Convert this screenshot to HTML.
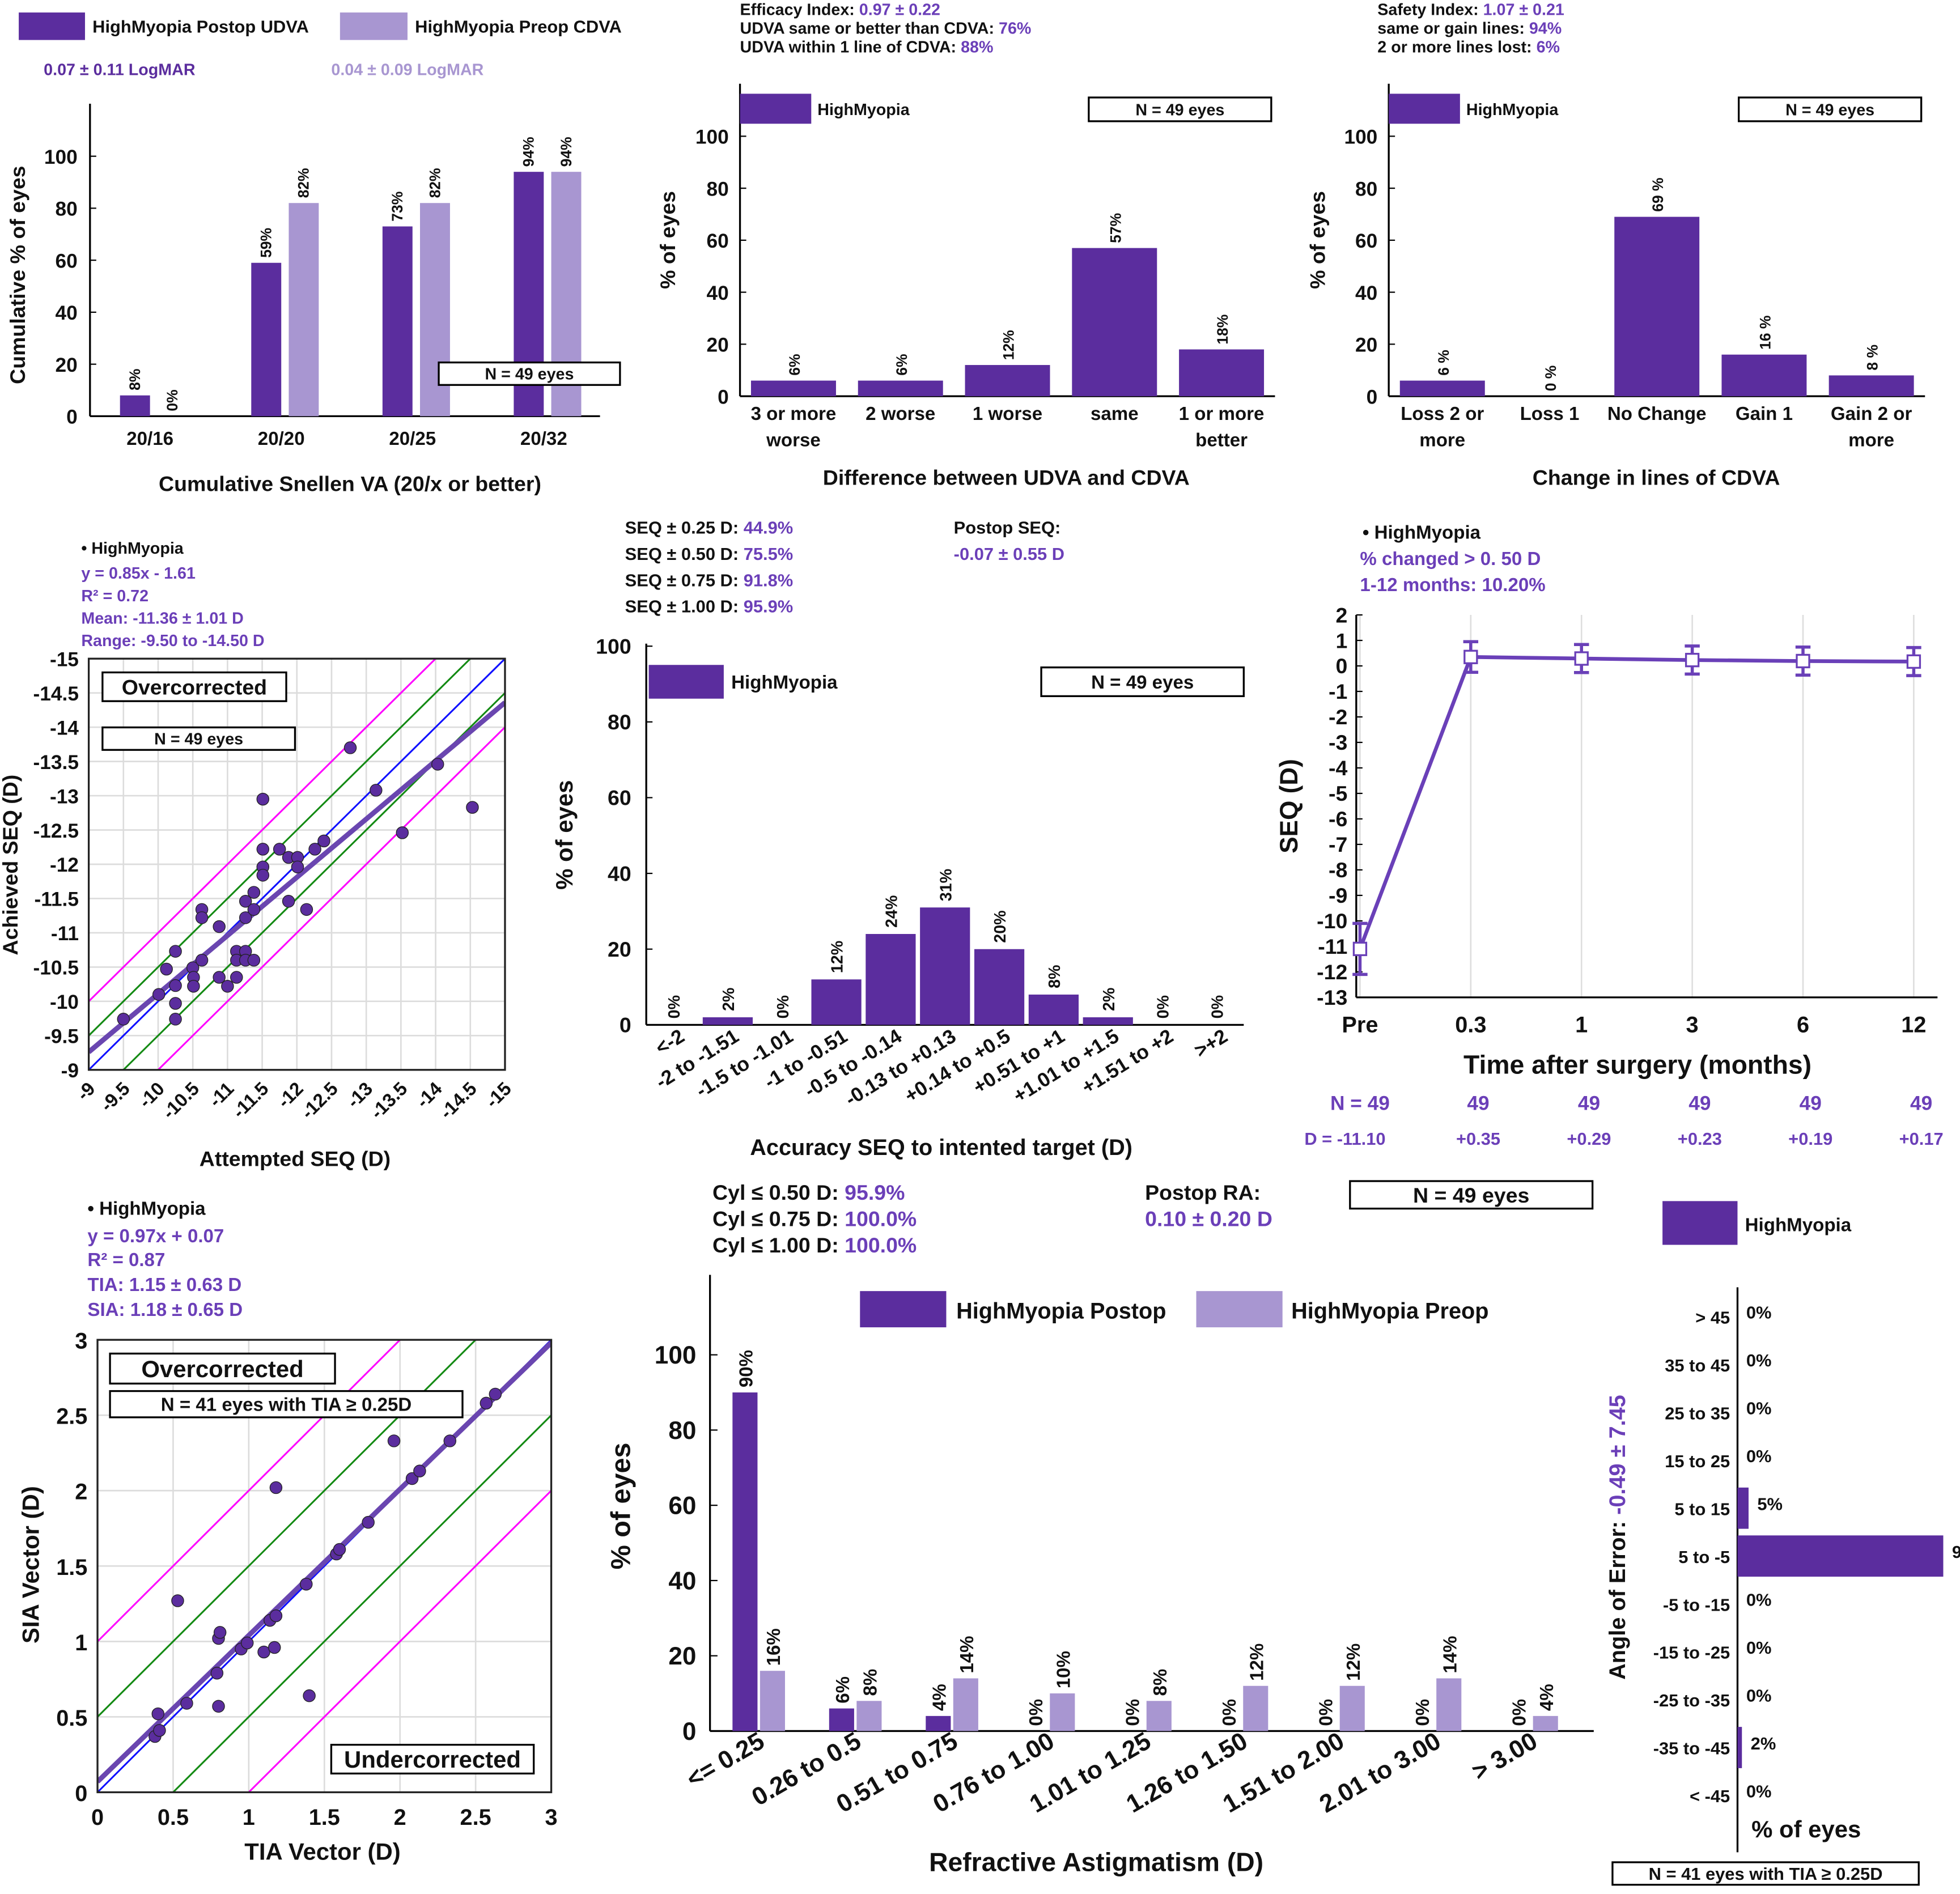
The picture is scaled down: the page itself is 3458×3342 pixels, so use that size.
<!DOCTYPE html>
<html><head><meta charset="utf-8"><title>High Myopia Outcomes</title>
<style>
html,body{margin:0;padding:0;background:#fff;width:3458px;height:3342px;overflow:hidden;}
svg{display:block;overflow:hidden;}
text{font-family:"Liberation Sans",Arial,sans-serif;font-weight:bold;}
</style></head>
<body>
<svg id="chart" xmlns="http://www.w3.org/2000/svg" width="3458" height="3342" viewBox="0 0 1568 1515.4" preserveAspectRatio="none"></svg>
<script>
// ---------------- DATA ----------------
const p1Cats = ["20/16","20/20","20/25","20/32"];
const p1Postop = [8,59,73,94];
const p1Preop = [0,82,82,94];
const p1Ticks = [0,20,40,60,80,100];

const p2Cats = [["3 or more","worse"],["2 worse"],["1 worse"],["same"],["1 or more","better"]];
const p2Vals = [6,6,12,57,18];

const p3Cats = [["Loss 2 or","more"],["Loss 1"],["No Change"],["Gain 1"],["Gain 2 or","more"]];
const p3Vals = [6,0,69,16,8];

const p4Attempted = [-9.50,-10.01,-10.12,-10.25,-10.25,-10.25,-10.25,-10.50,-10.51,-10.51,-10.63,-10.63,-10.63,-10.88,-10.88,-11.00,-11.13,-11.13,-11.13,-11.26,-11.26,-11.38,-11.26,-11.26,-11.38,-11.38,-11.51,-11.51,-11.51,-11.51,-11.75,-11.88,-12.01,-12.01,-11.88,-12.14,-12.26,-12.39,-12.77,-13.14,-13.52,-14.03,-14.53];
const p4Achieved = [-9.74,-10.10,-10.47,-10.73,-10.23,-9.97,-9.74,-10.49,-10.35,-10.22,-10.60,-11.34,-11.22,-11.09,-10.35,-10.22,-10.73,-10.60,-10.35,-10.73,-10.60,-10.60,-11.22,-11.46,-11.34,-11.59,-12.95,-12.22,-11.96,-11.84,-12.22,-12.10,-12.10,-11.96,-11.46,-11.34,-12.22,-12.34,-13.70,-13.08,-12.46,-13.46,-12.83];
const p4Slope = 0.85, p4Intercept = -1.61;
const p4Ticks = [-9,-9.5,-10,-10.5,-11,-11.5,-12,-12.5,-13,-13.5,-14,-14.5,-15];

const p5Cats = ["<-2","-2 to -1.51","-1.5 to -1.01","-1 to -0.51","-0.5 to -0.14","-0.13 to +0.13","+0.14 to +0.5","+0.51 to +1","+1.01 to +1.5","+1.51 to +2",">+2"];
const p5Vals = [0,2,0,12,24,31,20,8,2,0,0];

const p6Times = ["Pre","0.3","1","3","6","12"];
const p6Mean = [-11.10,0.35,0.29,0.23,0.19,0.17];
const p6Err = [1.0,0.6,0.55,0.55,0.55,0.55];
const p6N = ["N = 49","49","49","49","49","49"];
const p6D = ["D = -11.10","+0.35","+0.29","+0.23","+0.19","+0.17"];

const p7TIA = [0.38,0.41,0.40,0.59,0.53,0.80,0.79,0.80,0.81,0.95,0.99,1.10,1.17,1.14,1.18,1.18,1.38,1.40,1.58,1.60,1.79,1.96,2.08,2.13,2.33,2.57,2.63];
const p7SIA = [0.37,0.41,0.52,0.59,1.27,0.57,0.79,1.02,1.06,0.95,0.99,0.93,0.96,1.14,1.17,2.02,1.38,0.64,1.58,1.61,1.79,2.33,2.08,2.13,2.33,2.58,2.64];
const p7Slope = 0.97, p7Intercept = 0.07;
const p7Ticks = [0,0.5,1,1.5,2,2.5,3];

const p8Cats = ["<= 0.25","0.26 to 0.5","0.51 to 0.75","0.76 to 1.00","1.01 to 1.25","1.26 to 1.50","1.51 to 2.00","2.01 to 3.00","> 3.00"];
const p8Postop = [90,6,4,0,0,0,0,0,0];
const p8Preop = [16,8,14,10,8,12,12,14,4];

const p9Cats = ["> 45","35 to 45","25 to 35","15 to 25","5 to 15","5 to -5","-5 to -15","-15 to -25","-25 to -35","-35 to -45","< -45"];
const p9Vals = [0,0,0,0,5,93,0,0,0,2,0];

// ---------------- HELPERS ----------------
const NS = "http://www.w3.org/2000/svg";
const S = document.getElementById('chart');
const DARK = "#5b2d9e", LIGHT = "#a896d1", PTXT = "#6b3fb8";
function mk(tag, a, name, inter) {
  const e = document.createElementNS(NS, tag);
  for (const k in a) e.setAttribute(k, a[k]);
  
  
  S.appendChild(e);
  return e;
}
function txt(x, y, parts, size, name, o) {
  o = o || {};
  const a = {x: x, y: y, 'font-size': size, 'text-anchor': o.anchor || 'start', fill: o.fill || '#111'};
  if (o.rot !== undefined) a.transform = 'rotate(' + o.rot + ' ' + x + ' ' + y + ')';
  if (o.weight) a['font-weight'] = o.weight;
  const e = mk('text', a, name, false);
  if (typeof parts === 'string') { e.textContent = parts; return e; }
  parts.forEach(p => {
    const t = document.createElementNS(NS, 'tspan');
    t.setAttribute('fill', p[1]);
    t.textContent = p[0];
    e.appendChild(t);
  });
  return e;
}
function line(x1, y1, x2, y2, stroke, w, name) {
  return mk('line', {x1: x1, y1: y1, x2: x2, y2: y2, stroke: stroke, 'stroke-width': w}, name, false);
}
function rect(x, y, w, h, fill, name, stroke) {
  const a = {x: x, y: y, width: Math.max(0, w), height: Math.max(0, h), fill: fill};
  if (stroke) { a.stroke = stroke; a['stroke-width'] = 1.5; }
  return mk('rect', a, name, false);
}
function box(x, y, w, h, label, size, name) {
  rect(x, y, w, h, '#fff', name, '#000');
  txt(x + w / 2, y + h / 2 + size * 0.36, label, size, name + '-text', {anchor: 'middle'});
}

// ---------------- PANEL 1 ----------------
(function () {
  const y = v => 333 - v * 2.08;
  rect(15, 10, 53, 22, DARK, 'legend-swatch-postop');
  txt(74, 26, 'HighMyopia Postop UDVA', 14, 'legend-label-postop');
  rect(272, 10, 54, 22, LIGHT, 'legend-swatch-preop');
  txt(332, 26, 'HighMyopia Preop CDVA', 14, 'legend-label-preop');
  txt(35, 60, '0.07 ± 0.11 LogMAR', 13, 'postop-logmar', {fill: DARK});
  txt(265, 60, '0.04 ± 0.09 LogMAR', 13, 'preop-logmar', {fill: LIGHT});
  line(72, 83, 72, 333, '#000', 1.5, 'p1-y-axis');
  line(72, 333, 480, 333, '#000', 1.5, 'p1-x-axis');
  p1Ticks.forEach(t => {
    line(72, y(t), 77, y(t), '#000', 1, 'p1-y-tick');
    txt(62, y(t) + 6, String(t), 16, 'p1-y-tick-label', {anchor: 'end'});
  });
  const cx = i => 120 + i * 105;
  p1Cats.forEach((c, i) => {
    const c0 = cx(i);
    rect(c0 - 24, y(p1Postop[i]), 24, p1Postop[i] * 2.08, DARK, 'bar-postop-' + c);
    rect(c0 + 6, y(p1Preop[i]), 24, p1Preop[i] * 2.08, LIGHT, 'bar-preop-' + c);
    txt(c0 - 8, y(p1Postop[i]) - 4, p1Postop[i] + '%', 12, 'bar-label-postop', {rot: -90});
    txt(c0 + 22, y(p1Preop[i]) - 4, p1Preop[i] + '%', 12, 'bar-label-preop', {rot: -90});
    txt(c0, 356, c, 15, 'p1-x-tick-label', {anchor: 'middle'});
  });
  box(351, 290, 145, 18, 'N = 49 eyes', 13, 'p1-n-box');
  txt(20, 220, 'Cumulative % of eyes', 17, 'p1-y-axis-title', {anchor: 'middle', rot: -90});
  txt(280, 393, 'Cumulative Snellen VA (20/x or better)', 17, 'p1-x-axis-title', {anchor: 'middle'});
})();

// ---------------- PANELS 2 & 3 ----------------
function lineBar(x0, x1, cats, vals, pre, spaced) {
  const y = v => 317 - v * 2.08;
  line(x0, 67, x0, 317, '#000', 1.5, pre + '-y-axis');
  line(x0, 317, x1, 317, '#000', 1.5, pre + '-x-axis');
  [0, 20, 40, 60, 80, 100].forEach(t => {
    line(x0, y(t), x0 + 5, y(t), '#000', 1, pre + '-y-tick');
    txt(x0 - 9, y(t) + 6, String(t), 16, pre + '-y-tick-label', {anchor: 'end'});
  });
  const step = (x1 - x0) / cats.length;
  cats.forEach((c, i) => {
    const cx = x0 + step * (i + 0.5);
    rect(cx - 34, y(vals[i]), 68, vals[i] * 2.08, DARK, pre + '-bar-' + c.join('-').replace(/ /g, '-'));
    txt(cx + 5, y(vals[i]) - 4, vals[i] + (spaced ? ' %' : '%'), 12, pre + '-bar-label', {rot: -90});
    c.forEach((l, j) => txt(cx, 336 + j * 21, l, 15, pre + '-x-tick-label', {anchor: 'middle'}));
  });
  rect(x0, 75, 57, 24, DARK, pre + '-legend-swatch');
  txt(x0 + 62, 92, 'HighMyopia', 13, pre + '-legend-label');
  box(x1 - 149, 78, 146, 19, 'N = 49 eyes', 13, pre + '-n-box');
}
lineBar(592, 1020, p2Cats, p2Vals, 'p2', false);
txt(592, 12, [['Efficacy Index: ', '#111'], ['0.97 ± 0.22', PTXT]], 13, 'efficacy-index');
txt(592, 27, [['UDVA same or better than CDVA: ', '#111'], ['76%', PTXT]], 13, 'udva-same-better');
txt(592, 42, [['UDVA within 1 line of CDVA: ', '#111'], ['88%', PTXT]], 13, 'udva-within-1-line');
txt(540, 192, '% of eyes', 17, 'p2-y-axis-title', {anchor: 'middle', rot: -90});
txt(805, 388, 'Difference between UDVA and CDVA', 17, 'p2-x-axis-title', {anchor: 'middle'});

lineBar(1111, 1540, p3Cats, p3Vals, 'p3', true);
txt(1102, 12, [['Safety Index: ', '#111'], ['1.07 ± 0.21', PTXT]], 13, 'safety-index');
txt(1102, 27, [['same or gain lines: ', '#111'], ['94%', PTXT]], 13, 'same-or-gain-lines');
txt(1102, 42, [['2 or more lines lost: ', '#111'], ['6%', PTXT]], 13, 'lines-lost');
txt(1060, 192, '% of eyes', 17, 'p3-y-axis-title', {anchor: 'middle', rot: -90});
txt(1325, 388, 'Change in lines of CDVA', 17, 'p3-x-axis-title', {anchor: 'middle'});

// ---------------- PANEL 4 ----------------
(function () {
  const L = 71, R = 404, T = 527, B = 856;
  const px = v => L + (-v - 9) / 6 * (R - L);
  const py = v => B - (-v - 9) / 6 * (B - T);
  txt(65, 443, '• HighMyopia', 13, 'p4-legend');
  txt(65, 463, 'y = 0.85x - 1.61', 13, 'p4-equation', {fill: PTXT});
  txt(65, 481, 'R² = 0.72', 13, 'p4-r2', {fill: PTXT});
  txt(65, 499, 'Mean: -11.36 ± 1.01 D', 13, 'p4-mean', {fill: PTXT});
  txt(65, 517, 'Range: -9.50 to -14.50 D', 13, 'p4-range', {fill: PTXT});
  p4Ticks.forEach(t => {
    line(px(t), T, px(t), B, '#dcdcdc', 1.2, 'p4-grid-x');
    line(L, py(t), R, py(t), '#dcdcdc', 1.2, 'p4-grid-y');
    txt(L - 8, py(t) + 6, String(t), 16, 'p4-y-tick-label', {anchor: 'end'});
    txt(px(t) + 6, B + 16, String(t), 15, 'p4-x-tick-label', {anchor: 'end', rot: -45});
  });
  const cp = mk('clipPath', {id: 'c4'}, 'p4-clip', false);
  const cr = document.createElementNS(NS, 'rect');
  cr.setAttribute('x', L); cr.setAttribute('y', T); cr.setAttribute('width', R - L); cr.setAttribute('height', B - T);
  cp.appendChild(cr);
  const off = [[1, '#ff00ff', 'p4-plus-1-line'], [-1, '#ff00ff', 'p4-minus-1-line'], [0.5, '#138a13', 'p4-plus-half-line'], [-0.5, '#138a13', 'p4-minus-half-line'], [0, '#1010ff', 'p4-identity-line']];
  off.forEach(o => {
    const l = line(px(-8), py(-8 - o[0]), px(-16), py(-16 - o[0]), o[1], 1.4, o[2]);
    l.setAttribute('clip-path', 'url(#c4)');
  });
  const rl = line(px(-9), py(p4Slope * -9 + p4Intercept), px(-15), py(p4Slope * -15 + p4Intercept), '#6a46b0', 4, 'p4-regression-line');
  rl.setAttribute('clip-path', 'url(#c4)');
  p4Attempted.forEach((a, i) => {
    mk('circle', {cx: px(a), cy: py(p4Achieved[i]), r: 4.8, fill: DARK, stroke: '#222', 'stroke-width': 0.6}, 'p4-point', false);
  });
  rect(L, T, R - L, B - T, 'none', 'p4-plot-frame', '#222');
  box(82, 538, 147, 23, 'Overcorrected', 17, 'p4-overcorrected-box');
  box(82, 582, 154, 18, 'N = 49 eyes', 13, 'p4-n-box');
  txt(14, 692, 'Achieved SEQ (D)', 17, 'p4-y-axis-title', {anchor: 'middle', rot: -90});
  txt(236, 933, 'Attempted SEQ (D)', 17, 'p4-x-axis-title', {anchor: 'middle'});
})();

// ---------------- PANEL 5 ----------------
(function () {
  const y = v => 820 - v * 3.03;
  txt(500, 427, [['SEQ ± 0.25 D: ', '#111'], ['44.9%', PTXT]], 14, 'seq-025');
  txt(500, 448, [['SEQ ± 0.50 D: ', '#111'], ['75.5%', PTXT]], 14, 'seq-050');
  txt(500, 469, [['SEQ ± 0.75 D: ', '#111'], ['91.8%', PTXT]], 14, 'seq-075');
  txt(500, 490, [['SEQ ± 1.00 D: ', '#111'], ['95.9%', PTXT]], 14, 'seq-100');
  txt(763, 427, 'Postop SEQ:', 14, 'postop-seq-label');
  txt(763, 448, '-0.07 ± 0.55 D', 14, 'postop-seq-value', {fill: PTXT});
  line(517, 515, 517, 820, '#000', 1.5, 'p5-y-axis');
  line(517, 820, 995, 820, '#000', 1.5, 'p5-x-axis');
  [0, 20, 40, 60, 80, 100].forEach(t => {
    line(517, y(t), 522, y(t), '#000', 1, 'p5-y-tick');
    txt(505, y(t) + 6, String(t), 17, 'p5-y-tick-label', {anchor: 'end'});
  });
  const step = (995 - 517) / p5Cats.length;
  p5Cats.forEach((c, i) => {
    const cx = 517 + step * (i + 0.5);
    rect(cx - 20, y(p5Vals[i]), 40, p5Vals[i] * 3.03, DARK, 'p5-bar');
    txt(cx + 5, y(p5Vals[i]) - 5, p5Vals[i] + '%', 13, 'p5-bar-label', {rot: -90});
    txt(cx + 10, 832, c, 16, 'p5-x-tick-label', {anchor: 'end', rot: -32});
  });
  rect(519, 532, 60, 27, DARK, 'p5-legend-swatch');
  txt(585, 551, 'HighMyopia', 15, 'p5-legend-label');
  box(833, 534, 162, 23, 'N = 49 eyes', 15, 'p5-n-box');
  txt(458, 668, '% of eyes', 19, 'p5-y-axis-title', {anchor: 'middle', rot: -90});
  txt(753, 924, 'Accuracy SEQ to intented target (D)', 18, 'p5-x-axis-title', {anchor: 'middle'});
})();

// ---------------- PANEL 6 ----------------
(function () {
  const y = v => 492 + (2 - v) * 20.4;
  const xs = i => 1088 + i * 88.6;
  txt(1090, 431, '• HighMyopia', 15, 'p6-legend');
  txt(1088, 452, '% changed > 0. 50 D', 15, 'p6-changed', {fill: PTXT});
  txt(1088, 473, '1-12 months: 10.20%', 15, 'p6-months', {fill: PTXT});
  p6Times.forEach((t, i) => {
    line(xs(i), 492, xs(i), 798, '#dedede', 1.2, 'p6-grid');
    txt(xs(i), 826, t, 18, 'p6-x-tick-label', {anchor: 'middle'});
    txt(xs(i) + (i === 0 ? 0 : 6), 888, p6N[i], 16, 'p6-n-label', {anchor: 'middle', fill: PTXT});
    txt(xs(i) + (i === 0 ? -12 : 6), 916, p6D[i], 14, 'p6-d-label', {anchor: 'middle', fill: PTXT});
  });
  line(1085, 492, 1085, 798, '#000', 1.5, 'p6-y-axis');
  line(1085, 798, 1550, 798, '#000', 1.5, 'p6-x-axis');
  for (let v = -13; v <= 2; v++) {
    line(1085, y(v), 1090, y(v), '#000', 1, 'p6-y-tick');
    txt(1078, y(v) + 6, String(v), 17, 'p6-y-tick-label', {anchor: 'end'});
  }
  const pts = p6Mean.map((m, i) => xs(i) + ',' + y(m)).join(' ');
  mk('polyline', {points: pts, fill: 'none', stroke: '#6a40b8', 'stroke-width': 3}, 'p6-line', false);
  p6Mean.forEach((m, i) => {
    const x = xs(i);
    line(x, y(m + p6Err[i]), x, y(m - p6Err[i]), '#6a40b8', 2.5, 'p6-error-bar');
    line(x - 6, y(m + p6Err[i]), x + 6, y(m + p6Err[i]), '#6a40b8', 2.5, 'p6-error-cap');
    line(x - 6, y(m - p6Err[i]), x + 6, y(m - p6Err[i]), '#6a40b8', 2.5, 'p6-error-cap');
    rect(x - 5, y(m) - 5, 10, 10, '#fff', 'p6-marker', '#6a40b8');
  });
  txt(1038, 645, 'SEQ (D)', 20, 'p6-y-axis-title', {anchor: 'middle', rot: -90});
  txt(1310, 859, 'Time after surgery (months)', 21, 'p6-x-axis-title', {anchor: 'middle', weight: 'normal'});
})();

// ---------------- PANEL 7 ----------------
(function () {
  const L = 78, R = 441, T = 1072, B = 1434;
  const px = v => L + v / 3 * (R - L);
  const py = v => B - v / 3 * (B - T);
  txt(70, 972, '• HighMyopia', 15, 'p7-legend');
  txt(70, 994, 'y = 0.97x + 0.07', 15, 'p7-equation', {fill: PTXT});
  txt(70, 1013, 'R² = 0.87', 15, 'p7-r2', {fill: PTXT});
  txt(70, 1033, 'TIA: 1.15 ± 0.63 D', 15, 'p7-tia', {fill: PTXT});
  txt(70, 1053, 'SIA: 1.18 ± 0.65 D', 15, 'p7-sia', {fill: PTXT});
  p7Ticks.forEach(t => {
    line(px(t), T, px(t), B, '#dcdcdc', 1.2, 'p7-grid-x');
    line(L, py(t), R, py(t), '#dcdcdc', 1.2, 'p7-grid-y');
    txt(L - 8, py(t) + 7, String(t), 18, 'p7-y-tick-label', {anchor: 'end', weight: 'normal'});
    txt(px(t), B + 26, String(t), 18, 'p7-x-tick-label', {anchor: 'middle', weight: 'normal'});
  });
  const cp = mk('clipPath', {id: 'c7'}, 'p7-clip', false);
  const cr = document.createElementNS(NS, 'rect');
  cr.setAttribute('x', L); cr.setAttribute('y', T); cr.setAttribute('width', R - L); cr.setAttribute('height', B - T);
  cp.appendChild(cr);
  const off = [[1, '#ff00ff', 'p7-plus-1-line'], [-1, '#ff00ff', 'p7-minus-1-line'], [0.5, '#138a13', 'p7-plus-half-line'], [-0.5, '#138a13', 'p7-minus-half-line'], [0, '#1010ff', 'p7-identity-line']];
  off.forEach(o => {
    const l = line(px(-1), py(-1 + o[0]), px(4), py(4 + o[0]), o[1], 1.4, o[2]);
    l.setAttribute('clip-path', 'url(#c7)');
  });
  const rl = line(px(0), py(p7Intercept), px(3), py(3 * p7Slope + p7Intercept), '#6a46b0', 4, 'p7-regression-line');
  rl.setAttribute('clip-path', 'url(#c7)');
  p7TIA.forEach((a, i) => {
    mk('circle', {cx: px(a), cy: py(p7SIA[i]), r: 4.8, fill: DARK, stroke: '#222', 'stroke-width': 0.6}, 'p7-point', false);
  });
  rect(L, T, R - L, B - T, 'none', 'p7-plot-frame', '#222');
  box(88, 1083, 180, 24, 'Overcorrected', 19, 'p7-overcorrected-box');
  box(88, 1113, 282, 21, 'N = 41 eyes with TIA ≥ 0.25D', 15, 'p7-n-box');
  box(265, 1396, 162, 23, 'Undercorrected', 19, 'p7-undercorrected-box');
  txt(31, 1252, 'SIA Vector (D)', 19, 'p7-y-axis-title', {anchor: 'middle', rot: -90, weight: 'normal'});
  txt(258, 1488, 'TIA Vector (D)', 19, 'p7-x-axis-title', {anchor: 'middle', weight: 'normal'});
})();

// ---------------- PANEL 8 ----------------
(function () {
  const y = v => 1385 - v * 3.01;
  const cx = i => 607 + i * 77.3;
  txt(570, 960, [['Cyl ≤ 0.50 D: ', '#111'], ['95.9%', PTXT]], 17, 'cyl-050');
  txt(570, 981, [['Cyl ≤ 0.75 D: ', '#111'], ['100.0%', PTXT]], 17, 'cyl-075');
  txt(570, 1002, [['Cyl ≤ 1.00 D: ', '#111'], ['100.0%', PTXT]], 17, 'cyl-100');
  txt(916, 960, 'Postop RA:', 17, 'postop-ra-label');
  txt(916, 981, '0.10 ± 0.20 D', 17, 'postop-ra-value', {fill: PTXT});
  box(1080, 945, 194, 22, 'N = 49 eyes', 17, 'p8-n-box');
  line(568, 1020, 568, 1385, '#000', 1.5, 'p8-y-axis');
  line(568, 1385, 1275, 1385, '#000', 1.5, 'p8-x-axis');
  [0, 20, 40, 60, 80, 100].forEach(t => {
    line(568, y(t), 574, y(t), '#000', 1, 'p8-y-tick');
    txt(557, y(t) + 7, String(t), 20, 'p8-y-tick-label', {anchor: 'end'});
  });
  p8Cats.forEach((c, i) => {
    const c0 = cx(i);
    rect(c0 - 21, y(p8Postop[i]), 20, p8Postop[i] * 3.01, DARK, 'p8-bar-postop');
    rect(c0 + 1, y(p8Preop[i]), 20, p8Preop[i] * 3.01, LIGHT, 'p8-bar-preop');
    txt(c0 - 5, y(p8Postop[i]) - 4, p8Postop[i] + '%', 15, 'p8-bar-label-postop', {rot: -90});
    txt(c0 + 17, y(p8Preop[i]) - 4, p8Preop[i] + '%', 15, 'p8-bar-label-preop', {rot: -90});
    txt(c0 + 6, 1397, c, 20, 'p8-x-tick-label', {anchor: 'end', rot: -30});
  });
  rect(688, 1033, 69, 29, DARK, 'p8-legend-swatch-postop');
  txt(765, 1055, 'HighMyopia Postop', 18, 'p8-legend-label-postop');
  rect(957, 1033, 69, 29, LIGHT, 'p8-legend-swatch-preop');
  txt(1033, 1055, 'HighMyopia Preop', 18, 'p8-legend-label-preop');
  txt(504, 1205, '% of eyes', 22, 'p8-y-axis-title', {anchor: 'middle', rot: -90});
  txt(877, 1497, 'Refractive Astigmatism (D)', 21, 'p8-x-axis-title', {anchor: 'middle'});
})();

// ---------------- PANEL 9 ----------------
(function () {
  const X0 = 1390;
  const yc = i => 1053 + i * 38.3;
  const w = v => v * 1.77;
  rect(1330, 961, 60, 35, DARK, 'p9-legend-swatch');
  txt(1396, 985, 'HighMyopia', 15, 'p9-legend-label');
  line(X0, 1030, X0, 1482, '#000', 1.5, 'p9-y-axis');
  p9Cats.forEach((c, i) => {
    txt(1384, yc(i) + 6, c, 14, 'p9-y-tick-label', {anchor: 'end'});
    rect(X0, yc(i) - 16, w(p9Vals[i]), 33, DARK, 'p9-bar');
    txt(X0 + w(p9Vals[i]) + 7, yc(i) + 2, p9Vals[i] + '%', 14, 'p9-bar-label');
  });
  txt(1300, 1230, [['Angle of Error: ', '#111'], ['-0.49 ± 7.45', PTXT]], 18, 'angle-of-error-title', {anchor: 'middle', rot: -90});
  txt(1445, 1470, '% of eyes', 19, 'p9-x-axis-title', {anchor: 'middle', weight: 'normal'});
  box(1290, 1490, 245, 18, 'N = 41 eyes with TIA ≥ 0.25D', 14, 'p9-n-box');
})();
</script>
</body></html>
